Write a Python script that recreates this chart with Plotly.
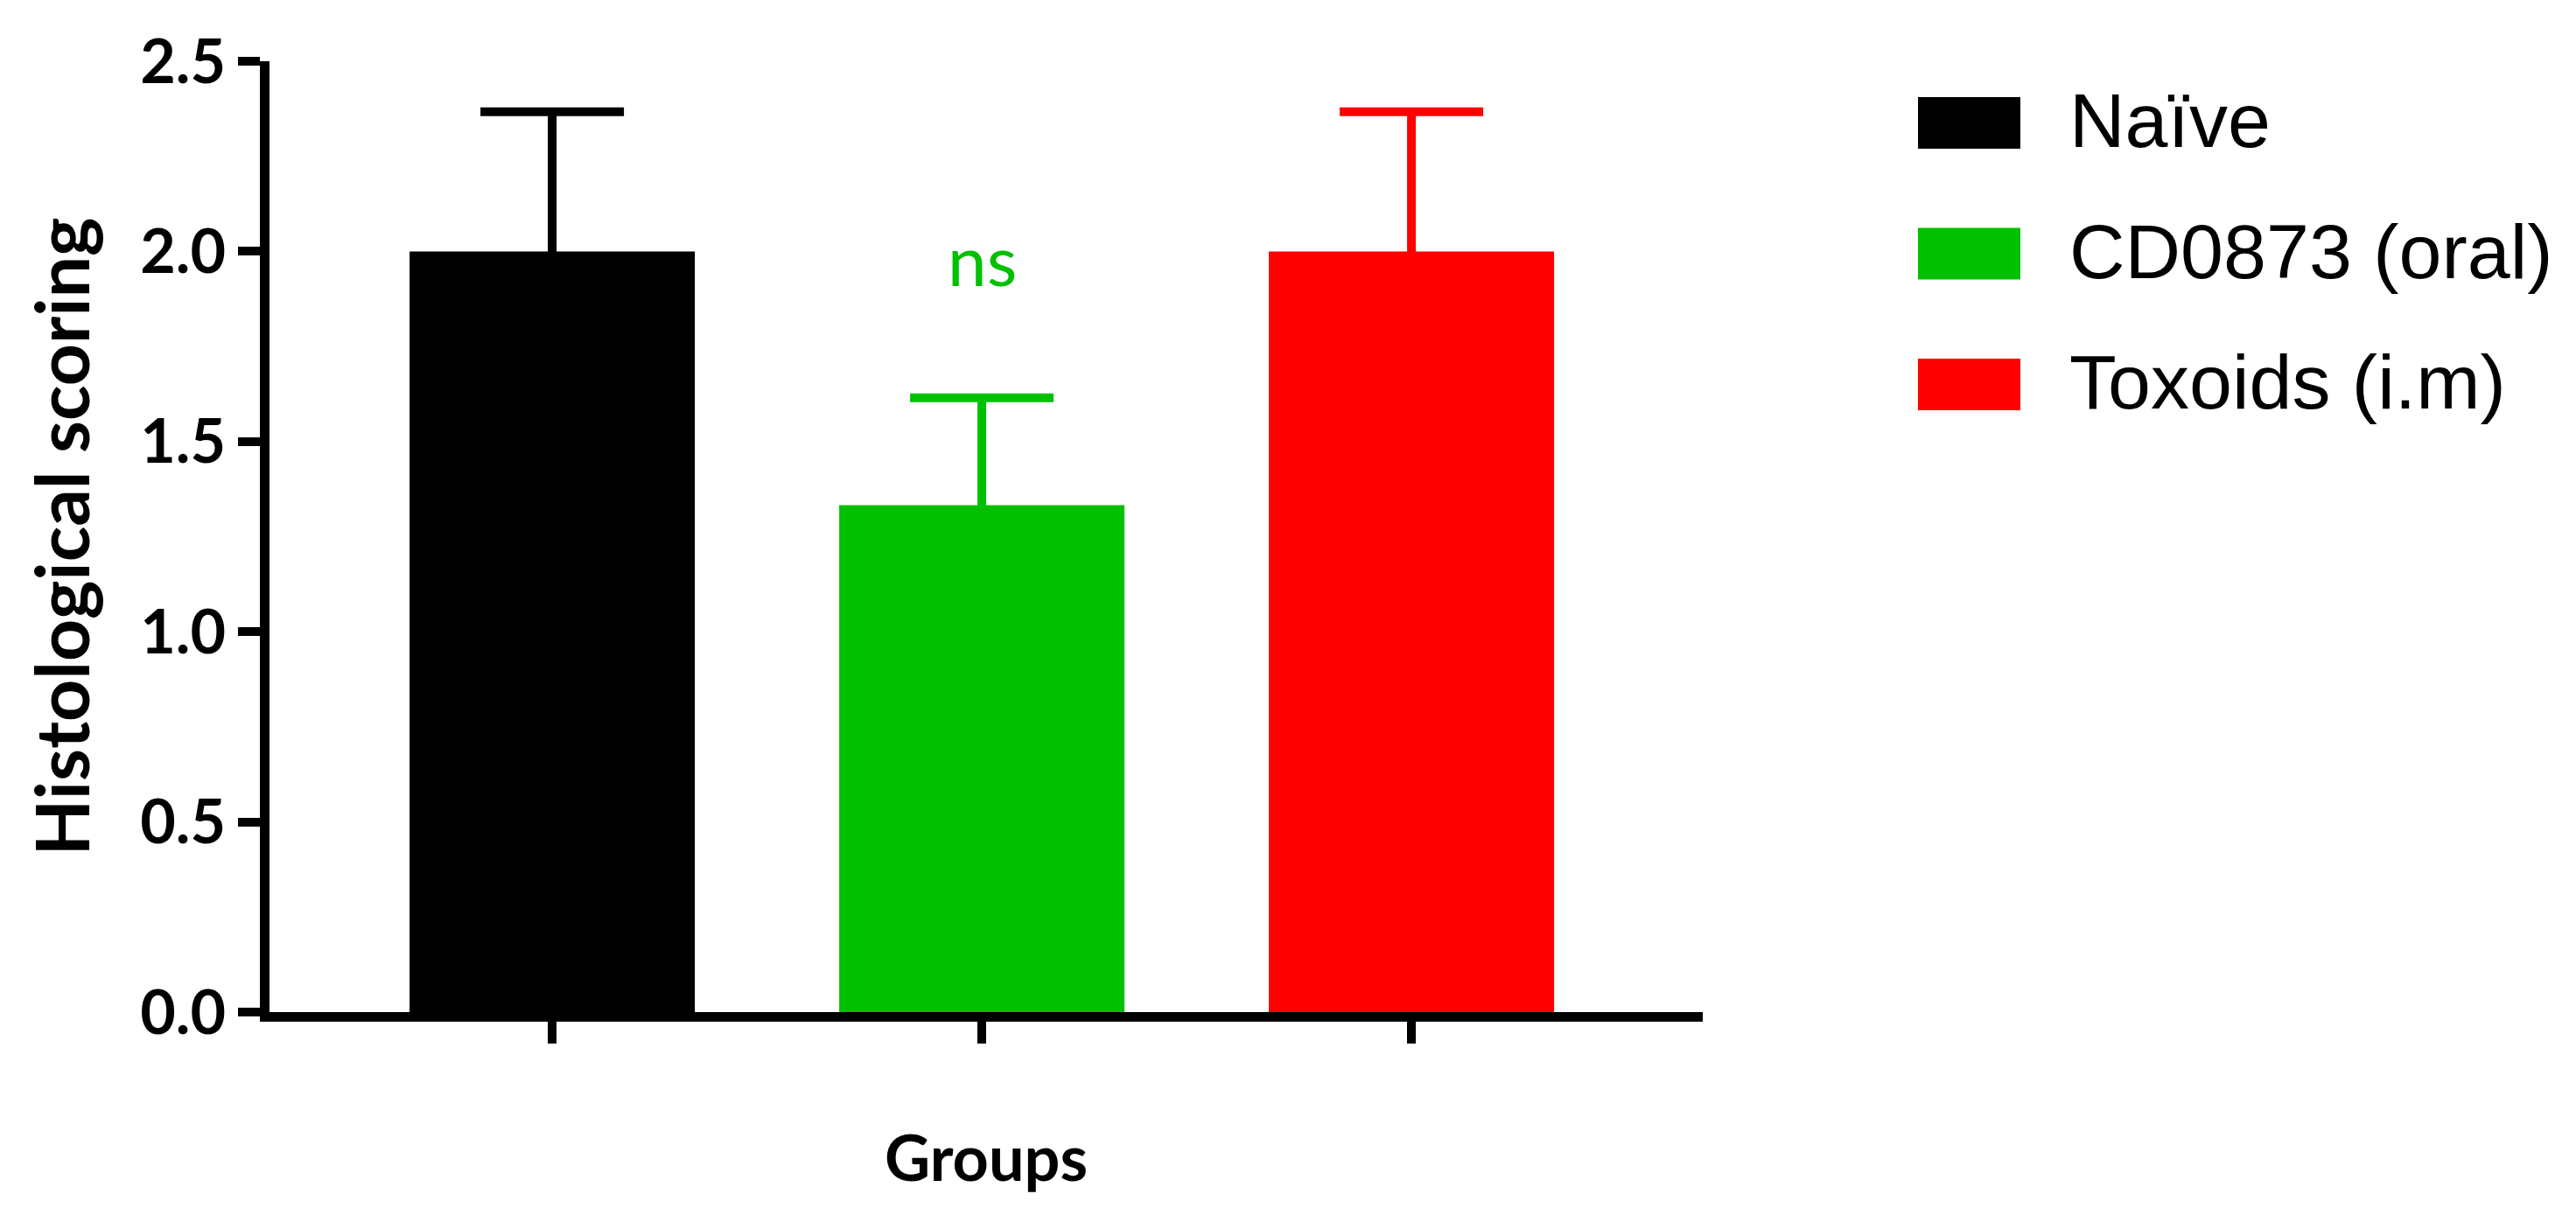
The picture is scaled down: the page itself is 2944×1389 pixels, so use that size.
import plotly.graph_objects as go

# data
groups = ["Naïve", "CD0873 (oral)", "Toxoids (i.m)"]
means = [2.0, 1.333, 2.0]
sem = [0.367, 0.282, 0.367]
colors = ["#000000", "#00c000", "#ff0000"]
y_ticks = [0.0, 0.5, 1.0, 1.5, 2.0, 2.5]
sig_label = "ns"
sig_value = 1.98

W, H = 2944, 1389
L, R, T, B = 300, 1006, 62, 240
plot_w = W - L - R
plot_h = H - T - B

fig = go.Figure()

for name, m, e, c in zip(groups, means, sem, colors):
    # symmetric bars: the lower half hides inside the bar of the same colour
    fig.add_trace(go.Bar(
        x=[name],
        y=[m],
        name=name,
        width=0.664,
        marker=dict(color=c, line=dict(width=0)),
        error_y=dict(
            type="data",
            array=[e],
            symmetric=True,
            color=c,
            thickness=10,
            width=82,
        ),
        showlegend=False,
    ))

# significance label above the green bar
fig.add_annotation(
    x=groups[1], y=sig_value, text=sig_label, showarrow=False,
    font=dict(family="Lato", size=80, color=colors[1]),
    xanchor="center", yanchor="middle",
)

# hand-built legend: wide colour blocks like the original
def px_x(px):
    return (px - L) / plot_w

def px_y(py):
    return (H - B - py) / plot_h

legend_rows = [132.5, 282, 431.5]
for name, c, cy in zip(groups, colors, legend_rows):
    fig.add_shape(
        type="rect", xref="paper", yref="paper",
        x0=px_x(2184), x1=px_x(2301),
        y0=px_y(cy + 29.5), y1=px_y(cy - 29.5),
        fillcolor=c, line=dict(width=0),
    )
    fig.add_annotation(
        xref="paper", yref="paper",
        x=px_x(2355), y=px_y(cy - 3),
        text=name, showarrow=False,
        xanchor="left", yanchor="middle",
        font=dict(family="Liberation Sans, Arial", size=88, color="black"),
    )

fig.update_layout(
    width=W, height=H,
    margin=dict(l=L, r=R, t=T, b=B, pad=0),
    barmode="overlay",
    paper_bgcolor="white",
    plot_bgcolor="white",
    font=dict(family="Lato", color="black"),
    showlegend=False,
)

fig.update_xaxes(
    range=[-0.658, 2.678],
    showgrid=False, zeroline=False,
    showline=True, linecolor="black", linewidth=11,
    ticks="outside", ticklen=25, tickwidth=10, tickcolor="black",
    showticklabels=False,
    title=dict(text="<b>Groups</b>", font=dict(family="Lato", size=72), standoff=112),
)

fig.update_yaxes(
    range=[0, 2.5],
    tickvals=y_ticks,
    tickformat=".1f",
    showgrid=False, zeroline=False,
    showline=True, linecolor="black", linewidth=11,
    ticks="outside", ticklen=25, tickwidth=10, tickcolor="black",
    tickfont=dict(family="Lato", size=70, weight="bold"),
    title=dict(text="<b>Histological scoring</b>", font=dict(family="Lato", size=84), standoff=34),
)

fig.write_html("out.html")
